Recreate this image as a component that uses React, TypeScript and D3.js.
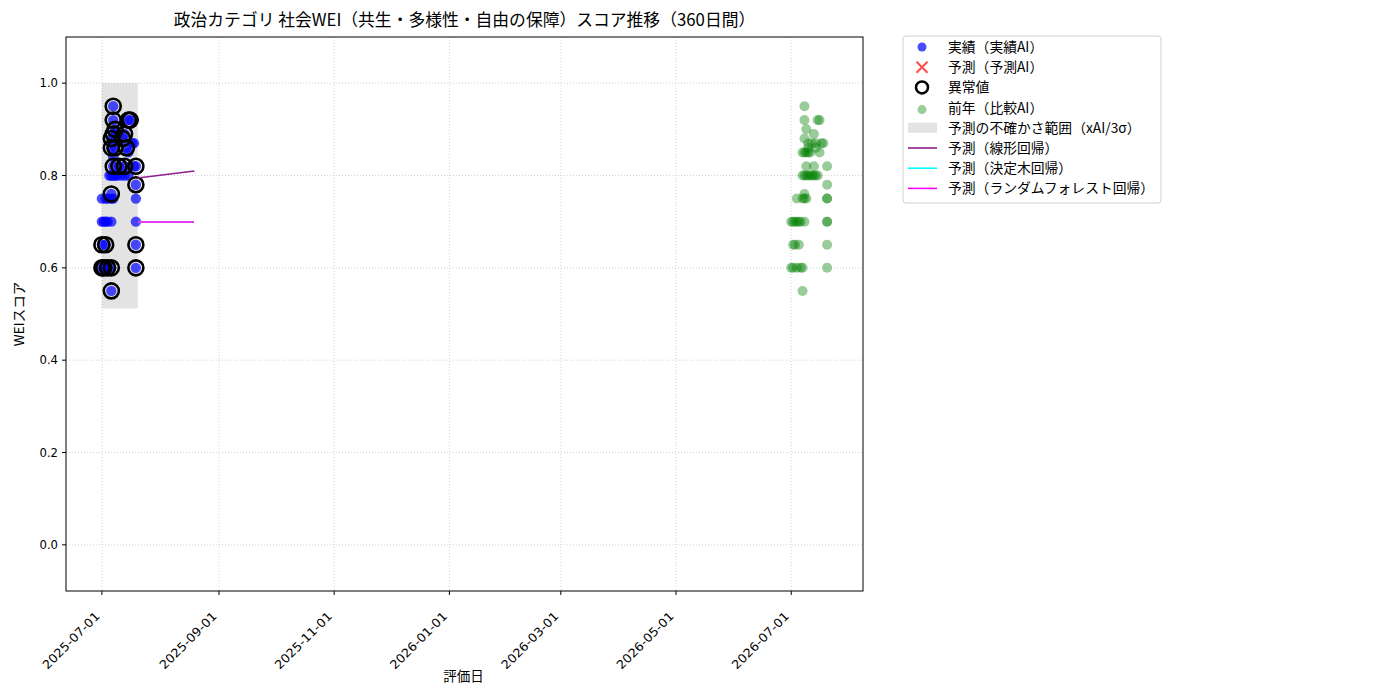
import React, { useEffect, useRef } from 'react';
import * as d3 from 'd3';

// 実績（実績AI）: 評価日オフセット(2025-07-01からの日数) とスコア
const actualDays = [5, 0, 1, 3, 5, 18, 0, 2, 18, 0, 1, 2, 3, 5, 18, 0, 2, 3, 5, 6, 18, 5, 18, 4, 5, 6, 7, 8, 10, 12, 14, 6, 9, 12, 17, 18, 6, 14, 5, 7, 13, 16, 17, 5, 11, 6, 12, 7, 6, 14, 15, 6];
const actualScores = [0.55, 0.6, 0.6, 0.6, 0.6, 0.6, 0.65, 0.65, 0.65, 0.7, 0.7, 0.7, 0.7, 0.7, 0.7, 0.75, 0.75, 0.75, 0.75, 0.75, 0.75, 0.76, 0.78, 0.8, 0.8, 0.8, 0.8, 0.8, 0.8, 0.8, 0.8, 0.82, 0.82, 0.82, 0.82, 0.82, 0.84, 0.85, 0.86, 0.86, 0.86, 0.87, 0.87, 0.88, 0.88, 0.89, 0.89, 0.9, 0.92, 0.92, 0.92, 0.95];

// 異常値
const outlierDays = [5, 0, 1, 3, 5, 18, 0, 2, 18, 5, 18, 6, 9, 12, 18, 5, 7, 13, 5, 11, 6, 12, 7, 6, 14, 15, 6];
const outlierScores = [0.55, 0.6, 0.6, 0.6, 0.6, 0.6, 0.65, 0.65, 0.65, 0.76, 0.78, 0.82, 0.82, 0.82, 0.82, 0.86, 0.86, 0.86, 0.88, 0.88, 0.89, 0.89, 0.9, 0.92, 0.92, 0.92, 0.95];

// 前年（比較AI）: 2026-07-01からの日数
const prevDays = [6, 0, 1, 3, 5, 6, 19, 1, 2, 4, 19, 0, 1, 2, 3, 4, 5, 7, 19, 19, 3, 6, 7, 8, 19, 19, 7, 19, 6, 7, 8, 9, 10, 11, 12, 13, 14, 8, 12, 19, 6, 7, 8, 9, 10, 15, 9, 13, 9, 11, 13, 16, 17, 7, 12, 8, 7, 14, 15, 7];
const prevScores = [0.55, 0.6, 0.6, 0.6, 0.6, 0.6, 0.6, 0.65, 0.65, 0.65, 0.65, 0.7, 0.7, 0.7, 0.7, 0.7, 0.7, 0.7, 0.7, 0.7, 0.75, 0.75, 0.75, 0.75, 0.75, 0.75, 0.76, 0.78, 0.8, 0.8, 0.8, 0.8, 0.8, 0.8, 0.8, 0.8, 0.8, 0.82, 0.82, 0.82, 0.85, 0.85, 0.85, 0.85, 0.85, 0.85, 0.86, 0.86, 0.87, 0.87, 0.87, 0.87, 0.87, 0.88, 0.89, 0.9, 0.92, 0.92, 0.92, 0.95];

// 予測の不確かさ範囲
const bandDates = ['2025-07-01', '2025-07-20'];
const bandLow = 0.512;
const bandHigh = 1.0;

// 予測ライン
const predDates = ['2025-07-20', '2025-08-19'];
const linearPred = [0.794, 0.809];
const treePred = [0.7, 0.7];
const forestPred = [0.7, 0.7];

const xTicks = ['2025-07-01', '2025-09-01', '2025-11-01', '2026-01-01', '2026-03-01', '2026-05-01', '2026-07-01'];
const yTicks = [0, 0.2, 0.4, 0.6, 0.8, 1.0];

const legendItems = [
  { label: '実績（実績AI）', kind: 'blue' },
  { label: '予測（予測AI）', kind: 'x' },
  { label: '異常値', kind: 'ring' },
  { label: '前年（比較AI）', kind: 'green' },
  { label: '予測の不確かさ範囲（xAI/3σ）', kind: 'band' },
  { label: '予測（線形回帰）', kind: 'line', color: '#8f1f8f' },
  { label: '予測（決定木回帰）', kind: 'line', color: '#00ffff' },
  { label: '予測（ランダムフォレスト回帰）', kind: 'line', color: '#ff00ff' },
];

const FONT = '"Noto Sans CJK JP", "Noto Sans", sans-serif';
const TICK_FONT = '"DejaVu Sans", "Noto Sans CJK JP", sans-serif';

const parse = d3.utcParse('%Y-%m-%d');
const addDays = (base: string, n: number) => d3.utcDay.offset(parse(base) as Date, n);

const App: React.FC = () => {
  const svgRef = useRef<SVGSVGElement>(null);

  useEffect(() => {
    if (!svgRef.current) return;
    d3.select(svgRef.current).selectAll('*').remove();

    const W = 1400;
    const H = 700;
    const margin = { top: 37, left: 66, right: 863, bottom: 591 };

    const svg = d3.select(svgRef.current)
      .attr('width', W)
      .attr('height', H)
      .style('font-family', FONT);

    const xScale = d3.scaleUtc()
      .domain([parse('2025-06-12') as Date, parse('2026-08-08') as Date])
      .range([margin.left, margin.right]);
    const yScale = d3.scaleLinear()
      .domain([-0.1, 1.1])
      .range([margin.bottom, margin.top]);

    // Grid
    const grid = svg.append('g');
    xTicks.forEach(t => {
      grid.append('line')
        .attr('x1', xScale(parse(t) as Date)).attr('x2', xScale(parse(t) as Date))
        .attr('y1', margin.top).attr('y2', margin.bottom)
        .attr('stroke', '#c8c8c8').attr('stroke-width', 0.8).attr('stroke-dasharray', '1,2');
    });
    yTicks.forEach(t => {
      grid.append('line')
        .attr('x1', margin.left).attr('x2', margin.right)
        .attr('y1', yScale(t)).attr('y2', yScale(t))
        .attr('stroke', '#c8c8c8').attr('stroke-width', 0.8).attr('stroke-dasharray', '1,2');
    });

    // Uncertainty band
    svg.append('rect')
      .attr('x', xScale(parse(bandDates[0]) as Date))
      .attr('y', yScale(bandHigh))
      .attr('width', xScale(parse(bandDates[1]) as Date) - xScale(parse(bandDates[0]) as Date))
      .attr('height', yScale(bandLow) - yScale(bandHigh))
      .attr('fill', '#808080')
      .attr('opacity', 0.22);

    // Actual points
    svg.append('g').selectAll('circle')
      .data(actualDays.map((d, i) => ({ date: addDays('2025-07-01', d), v: actualScores[i] })))
      .enter()
      .append('circle')
      .attr('cx', d => xScale(d.date))
      .attr('cy', d => yScale(d.v))
      .attr('r', 5.2)
      .attr('fill', 'blue')
      .attr('fill-opacity', 0.7);

    // Outliers
    svg.append('g').selectAll('circle')
      .data(outlierDays.map((d, i) => ({ date: addDays('2025-07-01', d), v: outlierScores[i] })))
      .enter()
      .append('circle')
      .attr('cx', d => xScale(d.date))
      .attr('cy', d => yScale(d.v))
      .attr('r', 7.5)
      .attr('fill', 'none')
      .attr('stroke', 'black')
      .attr('stroke-width', 2.6);

    // Previous year points
    svg.append('g').selectAll('circle')
      .data(prevDays.map((d, i) => ({ date: addDays('2026-07-01', d), v: prevScores[i] })))
      .enter()
      .append('circle')
      .attr('cx', d => xScale(d.date))
      .attr('cy', d => yScale(d.v))
      .attr('r', 5)
      .attr('fill', 'green')
      .attr('fill-opacity', 0.4);

    // Prediction lines (tree line sits under the forest line)
    const line = d3.line<number>()
      .x((_, i) => xScale(parse(predDates[i]) as Date))
      .y(d => Math.round(yScale(d)));
    svg.append('path').attr('d', line(linearPred)).attr('stroke', '#8f1f8f').attr('stroke-width', 1.6).attr('fill', 'none');
    svg.append('path').attr('d', line(treePred)).attr('stroke', '#00ffff').attr('stroke-width', 2)
      .attr('shape-rendering', 'crispEdges').attr('fill', 'none');
    svg.append('path').attr('d', line(forestPred)).attr('stroke', '#e040f0').attr('stroke-width', 2)
      .attr('shape-rendering', 'crispEdges').attr('fill', 'none');

    // Frame
    svg.append('rect')
      .attr('x', margin.left).attr('y', margin.top)
      .attr('width', margin.right - margin.left).attr('height', margin.bottom - margin.top)
      .attr('fill', 'none').attr('stroke', 'black').attr('stroke-width', 1);

    // Y axis ticks
    yTicks.forEach(t => {
      svg.append('line')
        .attr('x1', margin.left - 4).attr('x2', margin.left)
        .attr('y1', yScale(t)).attr('y2', yScale(t))
        .attr('stroke', 'black');
      svg.append('text')
        .attr('x', margin.left - 8).attr('y', yScale(t))
        .attr('dy', '0.36em')
        .attr('text-anchor', 'end')
        .attr('font-family', TICK_FONT)
        .attr('font-size', 12)
        .attr('textLength', 18.5)
        .attr('lengthAdjust', 'spacingAndGlyphs')
        .text(d3.format('.1f')(t));
    });

    // X axis ticks
    xTicks.forEach(t => {
      const x = xScale(parse(t) as Date);
      svg.append('line')
        .attr('x1', x).attr('x2', x)
        .attr('y1', margin.bottom).attr('y2', margin.bottom + 4)
        .attr('stroke', 'black');
      svg.append('text')
        .attr('transform', `translate(${x - 4.5},${margin.bottom + 23}) rotate(-45)`)
        .attr('text-anchor', 'end')
        .attr('dy', '0.36em')
        .attr('font-family', TICK_FONT)
        .attr('font-size', 12)
        .attr('textLength', 75)
        .attr('lengthAdjust', 'spacingAndGlyphs')
        .text(t);
    });

    // Labels
    svg.append('text')
      .attr('x', (margin.left + margin.right) / 2 - 1).attr('y', 681)
      .attr('text-anchor', 'middle').attr('font-size', 13.5)
      .text('評価日');
    svg.append('text')
      .attr('transform', `translate(24,${(margin.top + margin.bottom) / 2}) rotate(-90)`)
      .attr('text-anchor', 'middle').attr('font-size', 13.5)
      .text('WEIスコア');
    svg.append('text')
      .attr('x', (margin.left + margin.right) / 2).attr('y', 26)
      .attr('text-anchor', 'middle').attr('font-size', 16.8)
      .text('政治カテゴリ 社会WEI（共生・多様性・自由の保障）スコア推移（360日間）');

    // Legend
    const lg = svg.append('g').attr('transform', 'translate(903,36)');
    lg.append('rect')
      .attr('width', 258).attr('height', 167).attr('rx', 3)
      .attr('fill', 'white').attr('stroke', '#d0d0d0');
    legendItems.forEach((item, i) => {
      const cy = 11 + i * 20.2;
      const mx = 19;
      if (item.kind === 'blue') {
        lg.append('circle').attr('cx', mx).attr('cy', cy).attr('r', 4.5).attr('fill', 'blue').attr('fill-opacity', 0.7);
      } else if (item.kind === 'x') {
        lg.append('path')
          .attr('d', `M${mx - 5.5},${cy - 5.5}L${mx + 5.5},${cy + 5.5}M${mx - 5.5},${cy + 5.5}L${mx + 5.5},${cy - 5.5}`)
          .attr('stroke', 'red').attr('stroke-opacity', 0.7).attr('stroke-width', 2);
      } else if (item.kind === 'ring') {
        lg.append('circle').attr('cx', mx).attr('cy', cy).attr('r', 6).attr('fill', 'none').attr('stroke', 'black').attr('stroke-width', 2.5);
      } else if (item.kind === 'green') {
        lg.append('circle').attr('cx', mx).attr('cy', cy + 2).attr('r', 4.5).attr('fill', 'green').attr('fill-opacity', 0.4);
      } else if (item.kind === 'band') {
        lg.append('rect').attr('x', 5).attr('y', cy - 5).attr('width', 29).attr('height', 10).attr('fill', '#808080').attr('opacity', 0.22);
      } else {
        lg.append('line').attr('x1', 5).attr('x2', 34).attr('y1', cy).attr('y2', cy).attr('stroke', item.color as string).attr('stroke-width', 1.6);
      }
      lg.append('text')
        .attr('x', 45).attr('y', cy)
        .attr('dy', '0.36em')
        .attr('font-size', 13.8)
        .text(item.label);
    });
  }, []);

  return (
    <div style={{ position: 'absolute', left: 0, top: 0 }}>
      <svg ref={svgRef} style={{ display: 'block' }} />
    </div>
  );
};

export default App;
